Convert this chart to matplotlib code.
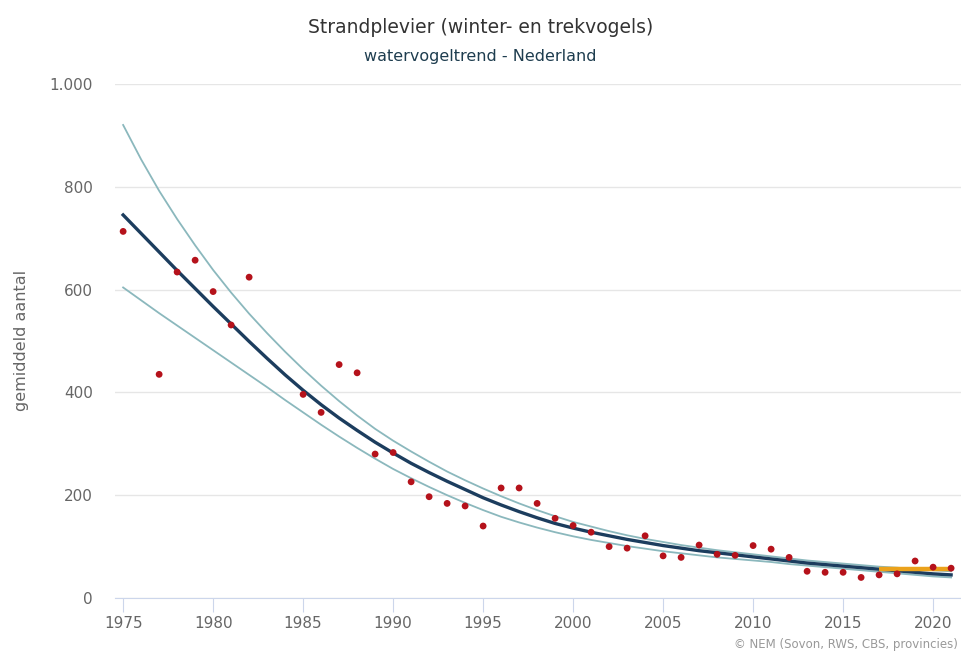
import matplotlib.pyplot as plt
from matplotlib.ticker import FuncFormatter

# observed yearly means
obs_years = [1975, 1977, 1978, 1979, 1980, 1981, 1982,
             1985, 1986, 1987, 1988, 1989, 1990, 1991, 1992, 1993, 1994,
             1995, 1996, 1997, 1998, 1999, 2000, 2001, 2002, 2003, 2004,
             2005, 2006, 2007, 2008, 2009, 2010, 2011, 2012, 2013, 2014,
             2015, 2016, 2017, 2018, 2019, 2020, 2021]
obs_vals = [713, 435, 634, 657, 596, 531, 624,
            396, 361, 454, 438, 280, 283, 226, 197, 184, 179,
            140, 214, 214, 184, 155, 141, 128, 100, 97, 121,
            82, 79, 103, 85, 83, 102, 95, 79, 52, 50,
            50, 40, 45, 47, 72, 60, 58]

# trend with confidence band
trend_years = list(range(1975, 2022))
trend = [745, 709, 673, 637, 602, 567, 533, 499, 466, 434,
         404, 376, 350, 326, 303, 282, 262, 244, 227, 211,
         195, 181, 168, 156, 145, 136, 128, 121, 114, 108,
         102, 97, 92, 88, 84, 80, 76, 72, 68, 65,
         62, 59, 56, 53, 50, 47, 45]
upper = [920, 853, 792, 737, 686, 638, 594, 553, 515, 479,
         445, 413, 383, 355, 329, 306, 285, 265, 246, 229,
         213, 198, 184, 171, 159, 148, 139, 130, 122, 115,
         109, 103, 98, 93, 89, 85, 81, 77, 73, 70,
         67, 64, 61, 59, 56, 54, 52]
lower = [604, 579, 554, 530, 506, 482, 458, 434, 410, 385,
         361, 337, 314, 292, 271, 251, 233, 216, 200, 185,
         171, 158, 147, 137, 128, 120, 113, 107, 101, 96,
         91, 87, 83, 79, 76, 73, 70, 66, 63, 60,
         57, 54, 51, 48, 45, 42, 40]

# recent period
recent_years = [2017, 2018, 2019, 2020, 2021]
recent_vals = [56, 56, 56, 56, 56]

fig = plt.figure(figsize=(9.61, 6.55), dpi=100)
ax = fig.add_axes([0.1197, 0.087, 0.8803, 0.785])

ax.plot(trend_years, upper, color='#8bb8bd', lw=1.3, zorder=2)
ax.plot(trend_years, lower, color='#8bb8bd', lw=1.3, zorder=2)
ax.plot(trend_years, trend, color='#1c3d5e', lw=2.4, zorder=3)
ax.plot(recent_years, recent_vals, color='#eba21b', lw=3.2, zorder=4,
        solid_capstyle='butt')
ax.scatter(obs_years, obs_vals, s=24, color='#b5121b', zorder=5,
           edgecolors='none')

ax.set_xlim(1974.55, 2021.55)
ax.set_ylim(0, 1000)
ax.set_xticks(range(1975, 2021, 5))
ax.set_yticks(range(0, 1001, 200))
ax.yaxis.set_major_formatter(
    FuncFormatter(lambda v, p: f'{int(v):,}'.replace(',', '.')))

for s in ['top', 'right', 'left']:
    ax.spines[s].set_visible(False)
ax.spines['bottom'].set_color('#ccd6eb')
ax.grid(axis='y', color='#e6e6e6', lw=1)
ax.set_axisbelow(True)
ax.tick_params(axis='x', length=10, color='#ccd6eb', labelsize=11,
               labelcolor='#666666', pad=3)
ax.tick_params(axis='y', length=0, labelsize=11, labelcolor='#666666',
               pad=16)

ax.set_ylabel('gemiddeld aantal', fontsize=11.5, color='#666666',
              labelpad=14.5)

fig.text(0.5, 0.958, 'Strandplevier (winter- en trekvogels)', ha='center',
         va='center', fontsize=13.5, color='#333333')
fig.text(0.5, 0.914, 'watervogeltrend - Nederland', ha='center',
         va='center', fontsize=11.5, color='#1e3d4f')
fig.text(0.997, 0.016, '© NEM (Sovon, RWS, CBS, provincies)', ha='right',
         va='center', fontsize=8.5, color='#999999')

fig.savefig('out.png', dpi=100)
